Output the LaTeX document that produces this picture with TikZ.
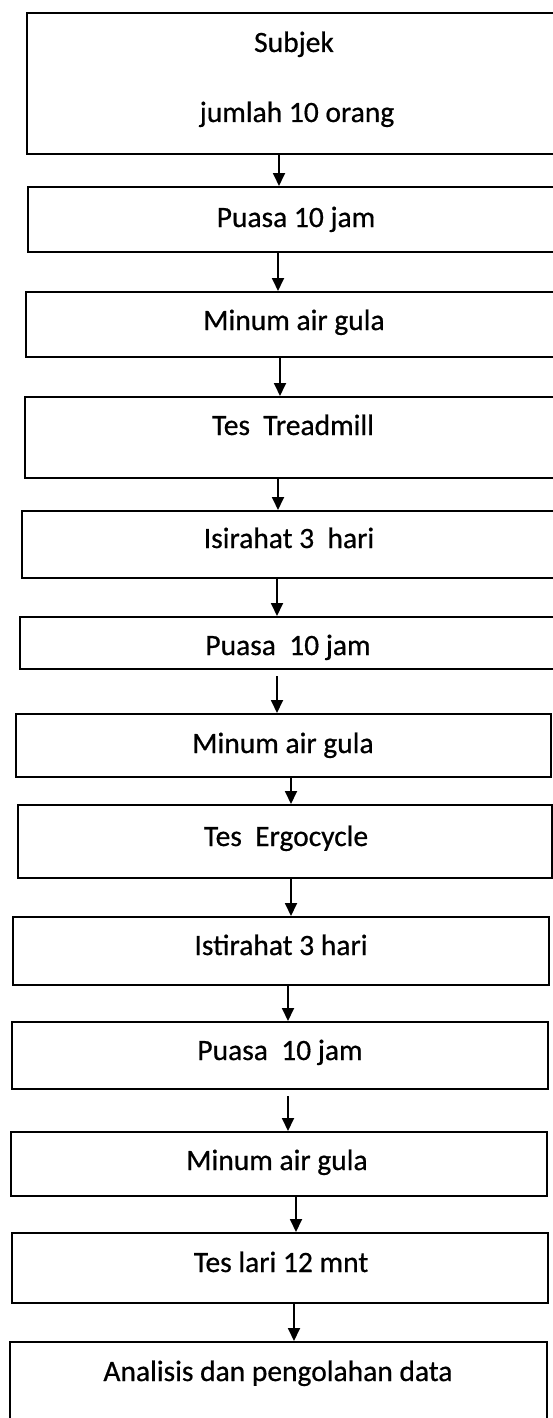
\documentclass[tikz,border=0pt]{standalone}
\usepackage{fontspec}
\setmainfont{Carlito}[FakeBold=0.6]
\usetikzlibrary{arrows.meta}
\tikzset{
  flowbox/.style={draw=black, line width=2pt, inner sep=0pt, fill=white},
  lbl/.style={anchor=base, inner sep=0pt, font=\fontsize{29.5}{34}\selectfont, text=black},
  arr/.style={draw=black, line width=1.8pt, -{Triangle[length=13pt,width=12pt]}}
}
\newcommand\flowbox[5]{%
  \node[flowbox, minimum width={(#4-#2)*1pt}, minimum height={(#5-#3)*1pt}] (#1) at ({(#2+#4)/2},{(#3+#5)/2}) {};}
\begin{document}
\begin{tikzpicture}[x=1pt,y=-1pt]
\fill[white] (0,0) rectangle (553,1418);
\clip (0,0) rectangle (553,1418);
\flowbox{b1}{27}{13}{558}{154}
\flowbox{b2}{28}{187}{558}{252}
\flowbox{b3}{26}{292}{558}{357}
\flowbox{b4}{25}{397}{558}{478}
\flowbox{b5}{22}{511}{558}{578}
\flowbox{b6}{20}{617}{558}{669}
\flowbox{b7}{16}{714}{551}{777}
\flowbox{b8}{18}{805}{552}{878}
\flowbox{b9}{13}{917}{549}{985}
\flowbox{b10}{12}{1022}{548}{1089}
\flowbox{b11}{11}{1132}{547}{1196}
\flowbox{b12}{12}{1233}{548}{1303}
\flowbox{b13}{10}{1342}{547}{1430}
\node[lbl] (t1a) at (294,52) {Subjek};
\node[lbl] (t1b) at (297,122) {jumlah 10 orang};
\node[lbl] (t2) at (296,227) {Puasa 10 jam};
\node[lbl] (t3) at (294,330) {Minum air gula};
\node[lbl] (t4) at (293,435) {Tes\ \ Treadmill};
\node[lbl] (t5) at (289,548) {Isirahat 3\ \ hari};
\node[lbl] (t6) at (288,655) {Puasa\ \ 10 jam};
\node[lbl] (t7) at (283,753) {Minum air gula};
\node[lbl] (t8) at (286,846) {Tes\ \ Ergocycle};
\node[lbl] (t9) at (281,955) {Istirahat 3 hari};
\node[lbl] (t10) at (280,1060) {Puasa\ \ 10 jam};
\node[lbl] (t11) at (277,1170) {Minum air gula};
\node[lbl] (t12) at (281,1272) {Tes lari 12 mnt};
\node[lbl] (t13) at (278,1381) {Analisis dan pengolahan data};
\coordinate (x1) at (279,0);
\coordinate (x2) at (278,0);
\coordinate (x3) at (280,0);
\coordinate (x4) at (278,0);
\coordinate (x5) at (277,0);
\coordinate (x6) at (277,0);
\coordinate (x7) at (291,0);
\coordinate (x8) at (291,0);
\coordinate (x9) at (288,0);
\coordinate (x10) at (288,0);
\coordinate (x11) at (296,0);
\coordinate (x12) at (294,0);
\draw[arr] (b1.south -| x1) -- (b2.north -| x1);
\draw[arr] (b2.south -| x2) -- (b3.north -| x2);
\draw[arr] (b3.south -| x3) -- (b4.north -| x3);
\draw[arr] (b4.south -| x4) -- (b5.north -| x4);
\draw[arr] (b5.south -| x5) -- (b6.north -| x5);
\draw[arr, shorten <=6pt] (b6.south -| x6) -- (b7.north -| x6);
\draw[arr] (b7.south -| x7) -- (b8.north -| x7);
\draw[arr] (b8.south -| x8) -- (b9.north -| x8);
\draw[arr] (b9.south -| x9) -- (b10.north -| x9);
\draw[arr, shorten <=6pt] (b10.south -| x10) -- (b11.north -| x10);
\draw[arr] (b11.south -| x11) -- (b12.north -| x11);
\draw[arr] (b12.south -| x12) -- (b13.north -| x12);
\end{tikzpicture}
\end{document}
